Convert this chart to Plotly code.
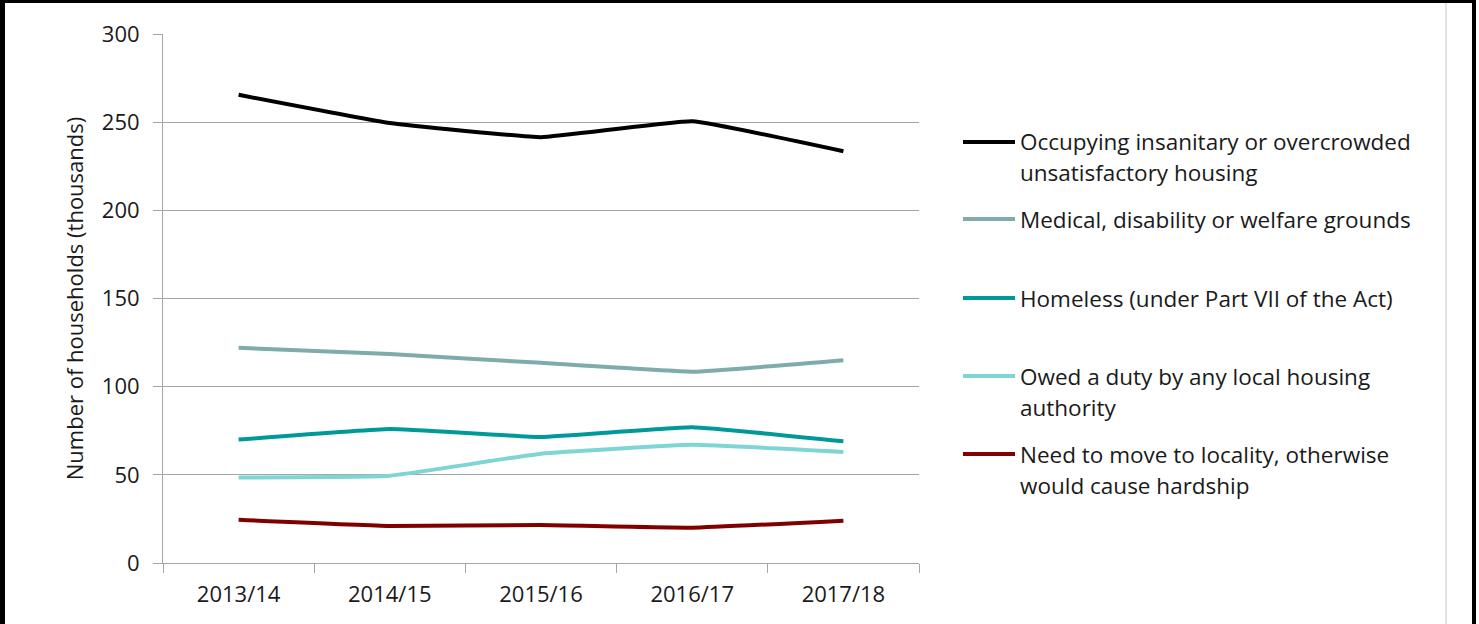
import plotly.graph_objects as go

# ── Data ──────────────────────────────────────────────────────────────────────
years = ["2013/14", "2014/15", "2015/16", "2016/17", "2017/18"]

insanitary = [265.5, 249.5, 241.5, 250.5, 233.5]
medical = [122, 118.5, 113.5, 108.5, 115]
homeless = [70, 76, 71.5, 77, 69]
owed_duty = [48.5, 49.5, 62, 67, 63]
need_move = [24.5, 21, 21.5, 20, 24]

series_names = [
    "Occupying insanitary or overcrowded<br>unsatisfactory housing",
    "Medical, disability or welfare grounds",
    "Homeless (under Part VII of the Act)",
    "Owed a duty by any local housing<br>authority",
    "Need to move to locality, otherwise<br>would cause hardship",
]
series_values = [insanitary, medical, homeless, owed_duty, need_move]
series_colors = ["#000000", "#7fabab", "#009999", "#7fd5d5", "#800000"]

FONT = "Open Sans"
TXT = "#1a1a1a"
GRID = "#a6a6a6"

fig = go.Figure()

for name, vals, col in zip(series_names, series_values, series_colors):
    fig.add_trace(go.Scatter(
        x=years, y=vals, mode="lines",
        line=dict(color=col, width=4, shape="spline", smoothing=0.3),
        name=name.replace("<br>", " "),
        showlegend=False,
    ))

# ── Hand-made legend (long sample lines, Excel-style spacing) ─────────────────
W, L, T, B = 1479, 163, 34, 61
pw = W - L - 560
ph = 624 - T - B


def px(x):
    return (x - L) / pw


def py(y):
    return (624 - B - y) / ph


first_line_y = [142, 219, 298, 376, 454]
line_gap = 31
shapes = []
annotations = []
for name, col, y0 in zip(series_names, series_colors, first_line_y):
    shapes.append(dict(type="line", xref="paper", yref="paper",
                       x0=px(963), x1=px(1015), y0=py(y0), y1=py(y0),
                       line=dict(color=col, width=4)))
    for k, part in enumerate(name.split("<br>")):
        annotations.append(dict(
            text=part, xref="paper", yref="paper",
            x=px(1018), y=py(y0 + k * line_gap),
            xanchor="left", yanchor="middle", showarrow=False,
            font=dict(family=FONT, size=22.5, color=TXT),
        ))

# ── Frame around the picture ──────────────────────────────────────────────────
shapes += [
    dict(type="rect", xref="paper", yref="paper", layer="above",
         x0=px(0), x1=px(5), y0=py(630), y1=py(0),
         fillcolor="black", line=dict(width=0)),
    dict(type="rect", xref="paper", yref="paper", layer="above",
         x0=px(0), x1=px(1476), y0=py(3), y1=py(0),
         fillcolor="black", line=dict(width=0)),
    dict(type="rect", xref="paper", yref="paper", layer="above",
         x0=px(1472), x1=px(1476), y0=py(630), y1=py(0),
         fillcolor="black", line=dict(width=0)),
    dict(type="line", xref="paper", yref="paper",
         x0=px(1446), x1=px(1446), y0=py(630), y1=py(3),
         line=dict(color="#c8c8c8", width=1)),
]

fig.update_layout(
    width=W, height=624,
    margin=dict(l=L, r=560, t=T, b=B),
    paper_bgcolor="white", plot_bgcolor="white",
    font=dict(family=FONT, size=22, color=TXT),
    xaxis=dict(
        type="category", range=[-0.5, 4.5],
        tickson="boundaries", ticks="outside", ticklen=9,
        tickcolor=GRID, showline=True, linecolor=GRID, linewidth=1,
        showgrid=False, tickfont=dict(size=22, color=TXT),
        ticklabelstandoff=12,
    ),
    yaxis=dict(
        range=[0, 300], dtick=50, ticks="outside", ticklen=9,
        tickcolor=GRID, showline=True, linecolor=GRID, linewidth=1,
        showgrid=True, gridcolor=GRID, gridwidth=1, zeroline=False,
        tickfont=dict(size=22, color=TXT), ticklabelstandoff=9,
        title=dict(text="Number of households (thousands)",
                   font=dict(size=22, color=TXT), standoff=12),
    ),
    shapes=shapes,
    annotations=annotations,
)

fig.write_html("out.html", config={"displayModeBar": False},
               post_script="document.body.style.margin='0';")
